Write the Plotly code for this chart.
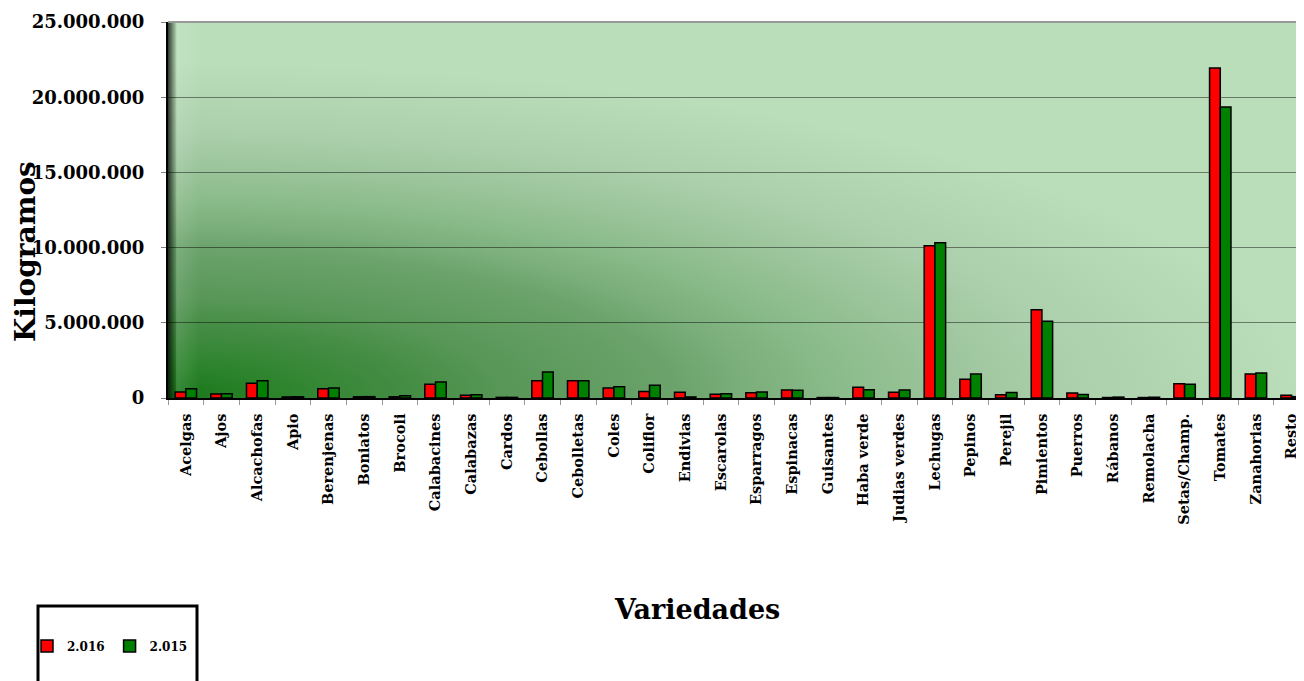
import base64
import plotly.graph_objects as go

categories = ["Acelgas", "Ajos", "Alcachofas", "Apio", "Berenjenas", "Boniatos", "Brocoli",
              "Calabacines", "Calabazas", "Cardos", "Cebollas", "Cebolletas", "Coles", "Coliflor",
              "Endivias", "Escarolas", "Esparragos", "Espinacas", "Guisantes", "Haba verde",
              "Judias verdes", "Lechugas", "Pepinos", "Perejil", "Pimientos", "Puerros", "Rábanos",
              "Remolacha", "Setas/Champ.", "Tomates", "Zanahorias", "Resto"]

kg_2016 = [400000, 270000, 980000, 70000, 620000, 80000, 80000,
           910000, 180000, 40000, 1150000, 1150000, 660000, 440000,
           380000, 250000, 350000, 530000, 30000, 710000,
           380000, 10130000, 1240000, 220000, 5870000, 330000, 30000,
           30000, 950000, 21940000, 1600000, 180000]

kg_2015 = [620000, 280000, 1150000, 80000, 660000, 90000, 150000,
           1060000, 220000, 40000, 1730000, 1150000, 750000, 840000,
           70000, 280000, 400000, 510000, 30000, 550000,
           530000, 10330000, 1600000, 360000, 5100000, 240000, 60000,
           50000, 910000, 19350000, 1660000, 90000]

y_tick_vals = [0, 5000000, 10000000, 15000000, 20000000, 25000000]
y_tick_text = ["0", "5.000.000", "10.000.000", "15.000.000", "20.000.000", "25.000.000"]

FONT = "DejaVu Serif"

# page offset of 8px (default body margin) is compensated in the figure size/margins
OFF = 8
PL, PT, PW, PH = 168, 22, 1136, 376  # plot area in page pixels
CAT_W = 35.67                         # category width in pixels
FIG_W = 1304 - OFF
FIG_H = 681 - OFF


def px(xp):
    return (xp - PL) / PW


def py(yp):
    return (PT + PH - yp) / PH


svg = """<svg xmlns="http://www.w3.org/2000/svg" width="1136" height="376" viewBox="0 0 1136 376" preserveAspectRatio="none">
<defs>
<radialGradient id="g" cx="0" cy="1" r="1" fx="0" fy="1">
<stop offset="0" stop-color="#187618"/>
<stop offset="0.1" stop-color="#2d842d"/>
<stop offset="0.22" stop-color="#468d46"/>
<stop offset="0.3" stop-color="#589758"/>
<stop offset="0.45" stop-color="#6ca36c"/>
<stop offset="0.52" stop-color="#7db07d"/>
<stop offset="0.6" stop-color="#8cbc8c"/>
<stop offset="0.7" stop-color="#9ec69e"/>
<stop offset="0.8" stop-color="#acd0ac"/>
<stop offset="1" stop-color="#badeba"/>
</radialGradient>
<linearGradient id="w" x1="0" y1="0" x2="1" y2="0">
<stop offset="0" stop-color="#000" stop-opacity="0.75"/>
<stop offset="1" stop-color="#000" stop-opacity="0"/>
</linearGradient>
<linearGradient id="h" x1="0" y1="0" x2="1" y2="0">
<stop offset="0" stop-color="#fff" stop-opacity="0.12"/>
<stop offset="1" stop-color="#fff" stop-opacity="0"/>
</linearGradient>
</defs>
<rect x="0" y="0" width="1136" height="376" fill="#badeba"/>
<rect x="0" y="40" width="1136" height="336" fill="url(#g)"/>
<rect x="8" y="0" width="24" height="376" fill="url(#h)"/>
<rect x="0" y="0" width="9" height="376" fill="url(#w)"/>
</svg>"""
bg_src = "data:image/svg+xml;base64," + base64.b64encode(svg.encode()).decode()

fig = go.Figure()
fig.add_trace(go.Bar(name="2.016", x=categories, y=kg_2016,
                     marker=dict(color="#ff0000", line=dict(color="#000000", width=1.5))))
fig.add_trace(go.Bar(name="2.015", x=categories, y=kg_2015,
                     marker=dict(color="#008000", line=dict(color="#000000", width=1.5))))

fig.update_layout(
    width=FIG_W, height=FIG_H, autosize=False,
    margin=dict(l=PL - OFF, r=FIG_W - (PL - OFF) - PW, t=PT - OFF,
                b=FIG_H - (PT - OFF) - PH, autoexpand=False),
    paper_bgcolor="white",
    plot_bgcolor="rgba(0,0,0,0)",
    barmode="group", bargap=0.4, bargroupgap=0,
    font=dict(family=FONT, color="black"),
    showlegend=True,
    legend=dict(orientation="h", x=px(27), y=py(646), xanchor="left", yanchor="middle",
                font=dict(size=12, family=FONT, weight="bold"),
                bgcolor="rgba(0,0,0,0)", itemwidth=30, tracegroupgap=0),
    images=[dict(source=bg_src, xref="paper", yref="paper", x=0, y=1, sizex=1, sizey=1,
                 xanchor="left", yanchor="top", sizing="stretch", layer="below")],
    shapes=[
        dict(type="rect", xref="paper", yref="paper",
             x0=px(38), x1=px(197), y0=py(700), y1=py(606),
             line=dict(color="black", width=3), fillcolor="rgba(0,0,0,0)"),
        dict(type="line", xref="paper", yref="paper", x0=0, x1=1, y0=1, y1=1,
             line=dict(color="#999999", width=2)),
    ],
    annotations=[
        dict(text="<b>Kilogramos</b>", xref="paper", yref="paper",
             x=px(25), y=py(252), xanchor="center", yanchor="middle",
             textangle=-90, showarrow=False,
             font=dict(size=28, family=FONT, color="black")),
        dict(text="<b>Variedades</b>", xref="paper", yref="paper",
             x=px(697), y=py(609), xanchor="center", yanchor="middle", showarrow=False,
             font=dict(size=27, family=FONT, color="black")),
    ],
)

fig.update_xaxes(
    type="category", range=[-0.5, -0.5 + PW / CAT_W],
    tickangle=-90, tickson="boundaries", ticks="outside", ticklen=5, ticklabelstandoff=8,
    tickcolor="#999999", tickfont=dict(size=14.5, family=FONT, weight="bold"),
    showline=True, linecolor="black", linewidth=1.5, showgrid=False, zeroline=False,
)
fig.update_yaxes(
    range=[0, 25000000], tickvals=y_tick_vals, ticktext=y_tick_text,
    ticks="outside", ticklen=5, tickcolor="#808080", ticklabelstandoff=13,
    tickfont=dict(size=18, family=FONT, weight="bold"),
    showline=True, linecolor="black", linewidth=2, layer="above traces",
    showgrid=True, gridcolor="rgba(0,0,0,0.45)", gridwidth=1, zeroline=False,
)

fig.write_html("out.html", config={"responsive": False})
